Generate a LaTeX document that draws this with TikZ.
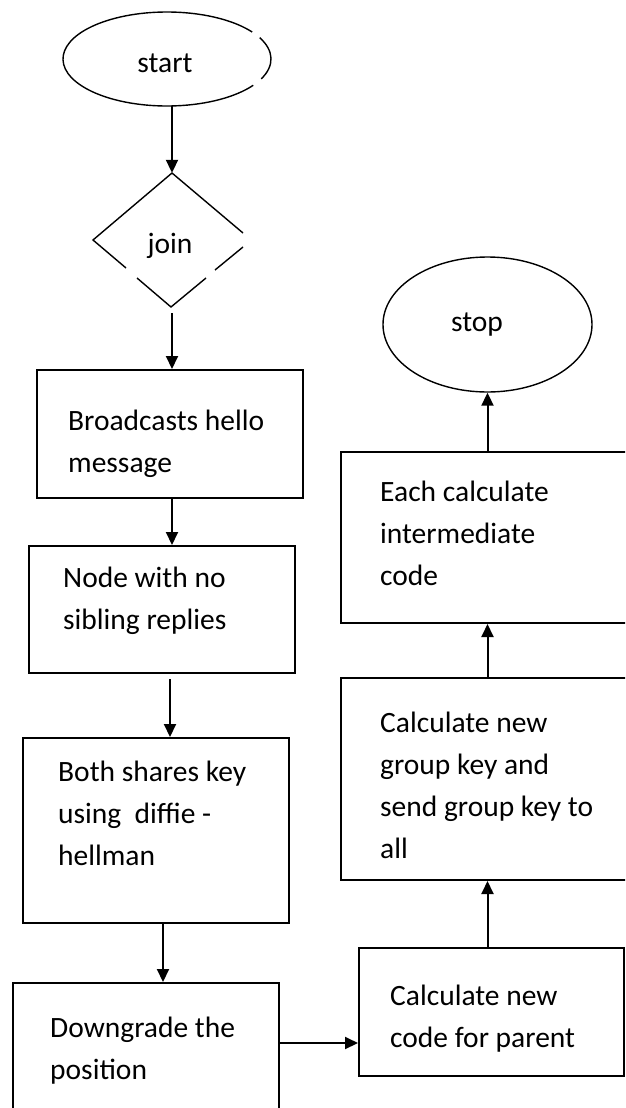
\documentclass[tikz,border=0pt]{standalone}
\usepackage{fontspec}
\setmainfont{Carlito}
\usetikzlibrary{shapes.geometric,arrows.meta,calc}
\begin{document}
\begin{tikzpicture}[x=1pt,y=-1pt,
  box/.style={draw, line width=2pt, rectangle, inner sep=0pt},
  term/.style={ellipse, inner sep=0pt},
  % multi-line labels: the base anchor sits on the last line
  lbl/.style={anchor=base west, align=left, inner sep=0pt, font=\fontsize{29.5pt}{42pt}\selectfont},
  clbl/.style={anchor=base, inner sep=0pt, font=\fontsize{29.5pt}{42pt}\selectfont},
  arr/.style={line width=2pt, -{Triangle[length=13pt,width=12pt]}},
  outline/.style={line width=1.4pt}]
\useasboundingbox (0,0) rectangle (625,1108);
\clip (0,0) rectangle (625,1108);

% terminals and decision
\node[term, minimum width=208pt, minimum height=94pt] (st) at (167,59) {};
\node[term, draw, line width=1.4pt, minimum width=209pt, minimum height=135pt] (sp) at (487.5,324.5) {};
\node[diamond, inner sep=0pt, minimum width=158pt, minimum height=134pt] (jn) at (172,240) {};

% start outline, broken on its right side
\draw[outline] (st.center) ++(35:104pt and 47pt)
  arc[start angle=35, end angle=326, x radius=104pt, y radius=47pt];
\draw[outline] (st.center) ++(-25:104pt and 47pt)
  arc[start angle=-25, end angle=27, x radius=104pt, y radius=47pt];

% join outline, with its broken corners
\draw[outline] (243,233) -- (172,173) -- (93,240) -- (126,268);
\draw[outline] (137,278) -- (171,307) -- (206,278);
\draw[outline] (215,270) -- (243,247);

\node[clbl] (tst) at (165,72) {start};
\node[clbl] (tjn) at (170,253) {join};
\node[clbl] (tsp) at (477,331) {stop};

% process boxes
\node[box, minimum width=266pt, minimum height=128pt] (b1) at (170,434) {};
\node[box, minimum width=266pt, minimum height=127pt] (b2) at (162,609.5) {};
\node[box, minimum width=266pt, minimum height=185pt] (b3) at (156,830.5) {};
\node[box, minimum width=266pt, minimum height=147pt] (b4) at (146,1056.5) {};
\node[box, minimum width=265pt, minimum height=128pt] (b5) at (491.5,1012) {};
\node[box, minimum width=299pt, minimum height=202pt] (b6) at (490.5,779) {};
\node[box, minimum width=299pt, minimum height=171pt] (b7) at (490.5,537.5) {};

\node[lbl] (t1) at (68,472) {Broadcasts hello\\message};
\node[lbl] (t2) at (63,629) {Node with no\\sibling replies};
\node[lbl] (t3) at (58,865) {Both shares key\\using\ \ diffie -\\hellman};
\node[lbl] (t4) at (50,1079) {Downgrade the\\position};
\node[lbl] (t5) at (390,1047) {Calculate new\\code for parent};
\node[lbl] (t6) at (380,858) {Calculate new\\group key and\\send group key to\\all};
\node[lbl] (t7) at (380,585) {Each calculate\\intermediate\\code};

% connectors
\draw[arr] (jn.north |- st.south) -- (jn.north);
\draw[arr, shorten <=6pt] (jn.south) -- (jn.south |- b1.north);
\draw[arr] (b1.south -| jn.south) -- (b2.north -| jn.south);
\draw[arr, shorten <=5pt] (b2.south -| b1.south) -- (b3.north -| b1.south);
\draw[arr] ([xshift=7pt]b3.south) -- ([xshift=7pt]b3.south |- b4.north);
\draw[arr] ([yshift=-61pt]b4.north east) -- ([yshift=-61pt]b4.north east -| b5.west);
\draw[arr] (b5.north -| sp.south) -- (b6.south -| sp.south);
\draw[arr] (b6.north -| sp.south) -- (b7.south -| sp.south);
\draw[arr] (b7.north -| sp.south) -- (sp.south);
\end{tikzpicture}
\end{document}
